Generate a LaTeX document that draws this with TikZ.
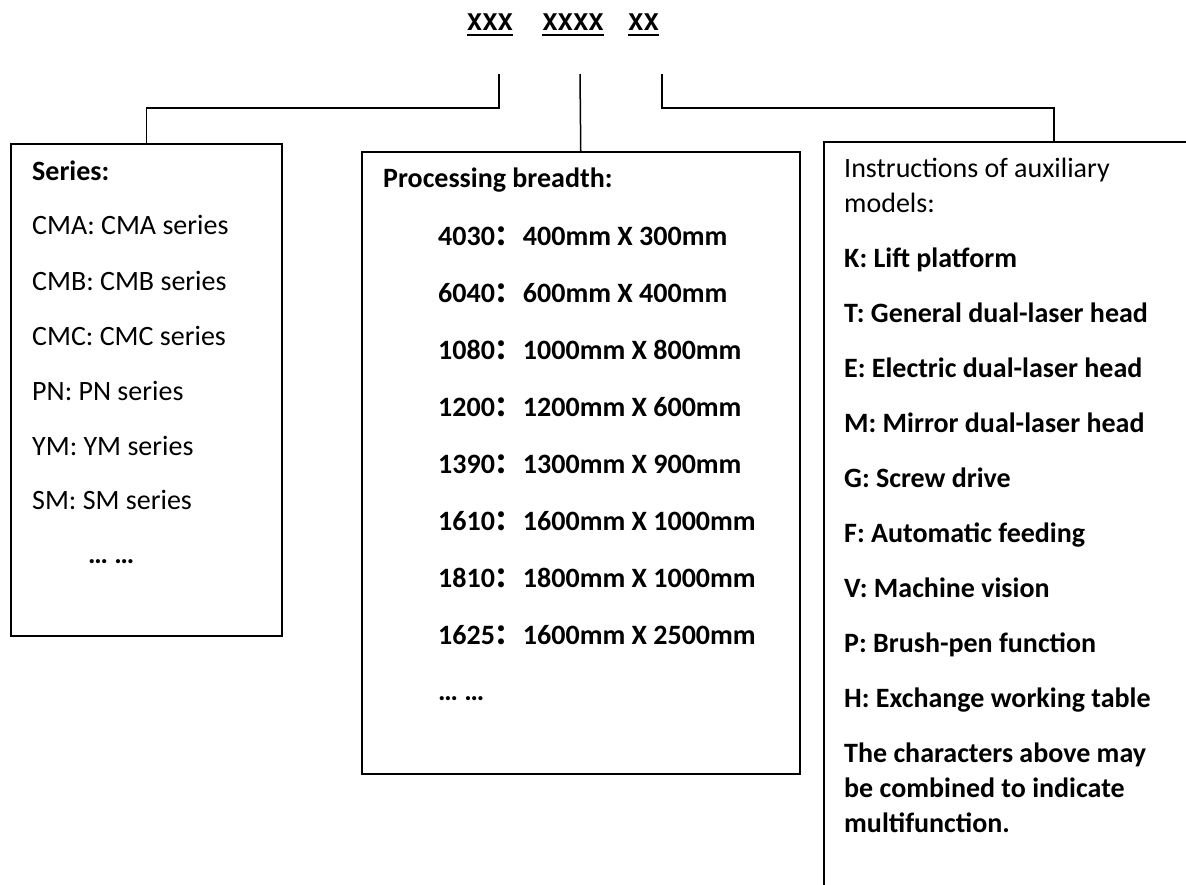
\documentclass[tikz,border=0pt]{standalone}
\usepackage{fontspec}
\setmainfont{Carlito}
\newfontfamily\headfont{texgyreheros-bold.otf}
\newfontfamily\cjk{Noto Sans CJK SC}

\tikzset{
  box/.style={draw, line width=1.5pt, inner sep=0pt, anchor=north west},
  item/.style={anchor=base west, inner sep=0pt, font=\fontsize{28}{34}\selectfont},
  itembold/.style={item, font=\fontsize{28}{34}\selectfont\bfseries},
  code/.style={anchor=base, inner sep=0pt, font=\headfont\fontsize{23}{28}\selectfont},
  link/.style={line width=1.5pt},
  uline/.style={line width=2.5pt}
}

\begin{document}
\begin{tikzpicture}[x=1pt, y=-1pt]
  \useasboundingbox (0,0) rectangle (1186,884);
  \clip (0,0) rectangle (1186,884);

  % model code
  \node[code] (code1) at (490,30) {XXX};
  \node[code] (code2) at (573,30) {XXXX};
  \node[code] (code3) at (643.5,30) {XX};
  \draw[uline] ([yshift=-5pt]code1.base west) -- ([yshift=-5pt]code1.base east);
  \draw[uline] ([yshift=-5pt]code2.base west) -- ([yshift=-5pt]code2.base east);
  \draw[uline] ([yshift=-5pt]code3.base west) -- ([yshift=-5pt]code3.base east);

  % boxes
  \node[box, minimum width=271, minimum height=492] (series) at (10,143) {};
  \node[box, minimum width=438, minimum height=622] (breadth) at (361,151) {};
  \node[box, minimum width=460, minimum height=809] (aux) at (823,141) {};

  % connectors
  \coordinate (top1) at (499,74);
  \coordinate (top2) at (580,74);
  \coordinate (top3) at (662,74);
  \draw[link] (top1) -- ++(0,34) -| (series.north);
  \draw[link] (top2) -- (breadth.north);
  \draw[link] (top3) -- ++(0,34) -| (aux.north);

  % series
  \node[itembold] (serieshead) at (32,180) {Series:};
  \node[item] (cma) at (32,234) {CMA: CMA series};
  \node[item] (cmb) at (32,290) {CMB: CMB series};
  \node[item] (cmc) at (32,345) {CMC: CMC series};
  \node[item] (pn) at (32,400) {PN: PN series};
  \node[item] (ym) at (32,455) {YM: YM series};
  \node[item] (sm) at (32,509) {SM: SM series};
  \node[itembold] (seriesmore) at (88,563) {… …};

  % processing breadth
  \node[itembold] (breadthhead) at (383,187) {Processing breadth:};
  \node[itembold] (b4030) at (438,245) {4030{\cjk ：}400mm X 300mm};
  \node[itembold] (b6040) at (438,302) {6040{\cjk ：}600mm X 400mm};
  \node[itembold] (b1080) at (438,359) {1080{\cjk ：}1000mm X 800mm};
  \node[itembold] (b1200) at (438,416) {1200{\cjk ：}1200mm X 600mm};
  \node[itembold] (b1390) at (438,473) {1390{\cjk ：}1300mm X 900mm};
  \node[itembold] (b1610) at (438,530) {1610{\cjk ：}1600mm X 1000mm};
  \node[itembold] (b1810) at (438,587) {1810{\cjk ：}1800mm X 1000mm};
  \node[itembold] (b1625) at (438,644) {1625{\cjk ：}1600mm X 2500mm};
  \node[itembold] (breadthmore) at (438,700) {… …};

  % auxiliary models
  \node[item] (auxhead1) at (844,177) {Instructions of auxiliary};
  \node[item] (auxhead2) at (844,212) {models:};
  \node[itembold] (auxk) at (844,267) {K: Lift platform};
  \node[itembold] (auxt) at (844,322) {T: General dual-laser head};
  \node[itembold] (auxe) at (844,377) {E: Electric dual-laser head};
  \node[itembold] (auxm) at (844,432) {M: Mirror dual-laser head};
  \node[itembold] (auxg) at (844,487) {G: Screw drive};
  \node[itembold] (auxf) at (844,542) {F: Automatic feeding};
  \node[itembold] (auxv) at (844,597) {V: Machine vision};
  \node[itembold] (auxp) at (844,652) {P: Brush-pen function};
  \node[itembold] (auxh) at (844,707) {H: Exchange working table};
  \node[itembold] (note1) at (844,762) {The characters above may};
  \node[itembold] (note2) at (844,797) {be combined to indicate};
  \node[itembold] (note3) at (844,832) {multifunction.};
\end{tikzpicture}
\end{document}
